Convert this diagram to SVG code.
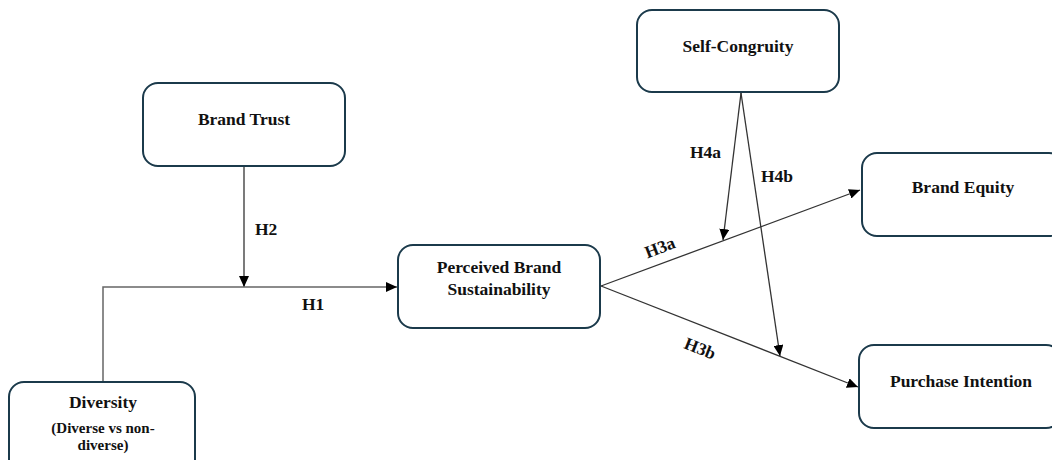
<svg xmlns="http://www.w3.org/2000/svg" width="1052" height="460" viewBox="0 0 1052 460">
<style>
.box{fill:#fff;stroke:#1b3a4b;stroke-width:2}
.lbl{font-family:"Liberation Serif","Times New Roman",serif;font-weight:bold;font-size:17.5px;fill:#111;text-anchor:middle}
.sub{font-size:15px}
.h{font-family:"Liberation Serif","Times New Roman",serif;font-weight:bold;font-size:17.5px;fill:#111}
.ln{fill:none;stroke:#333;stroke-width:1.3}
</style>
<defs>
<marker id="ah" markerUnits="userSpaceOnUse" markerWidth="11" markerHeight="10" refX="11" refY="5" orient="auto">
<path d="M0,0 L11,5 L0,10 z" fill="#000"/>
</marker>
</defs>
<rect width="1052" height="460" fill="#fff"/>
<g id="connectors">
<line class="ln" x1="244" y1="166" x2="244" y2="287" marker-end="url(#ah)"/>
<polyline class="ln" style="stroke:#666;stroke-width:1.5" points="103,382 103,287 397,287" marker-end="url(#ah)"/>
<line class="ln" x1="601" y1="286" x2="860" y2="190" marker-end="url(#ah)"/>
<line class="ln" x1="601" y1="286" x2="858" y2="387" marker-end="url(#ah)"/>
<line class="ln" x1="741" y1="93" x2="723" y2="240" marker-end="url(#ah)"/>
<line class="ln" x1="741" y1="93" x2="780" y2="356" marker-end="url(#ah)"/>
<text class="h" x="255" y="235">H2</text>
<text class="h" x="302" y="310">H1</text>
<text class="h" x="690" y="158">H4a</text>
<text class="h" x="761" y="182">H4b</text>
<text class="h" text-anchor="middle" transform="translate(662,253) rotate(-21)">H3a</text>
<text class="h" text-anchor="middle" transform="translate(698,354) rotate(21.6)">H3b</text>
</g>
<g id="brand-trust">
<rect class="box" x="143" y="83" width="202" height="83" rx="15"/>
<text class="lbl" x="244" y="125">Brand Trust</text>
</g>
<g id="self-congruity">
<rect class="box" x="637" y="10" width="202" height="82" rx="15"/>
<text class="lbl" x="738" y="52">Self-Congruity</text>
</g>
<g id="perceived-brand-sustainability">
<rect class="box" x="398" y="245" width="202" height="83" rx="15"/>
<text class="lbl" x="499" y="273">Perceived Brand</text>
<text class="lbl" x="499" y="295">Sustainability</text>
</g>
<g id="brand-equity">
<rect class="box" x="862" y="153" width="202" height="83" rx="15"/>
<text class="lbl" x="963" y="193">Brand Equity</text>
</g>
<g id="purchase-intention">
<rect class="box" x="859" y="345" width="202" height="83" rx="15"/>
<text class="lbl" x="961" y="387">Purchase Intention</text>
</g>
<g id="diversity">
<rect class="box" x="9" y="382" width="186" height="95" rx="15"/>
<text class="lbl" x="103" y="408">Diversity</text>
<text class="lbl sub" x="103" y="433">(Diverse vs non-</text>
<text class="lbl sub" x="103" y="450">diverse)</text>
</g>
</svg>
